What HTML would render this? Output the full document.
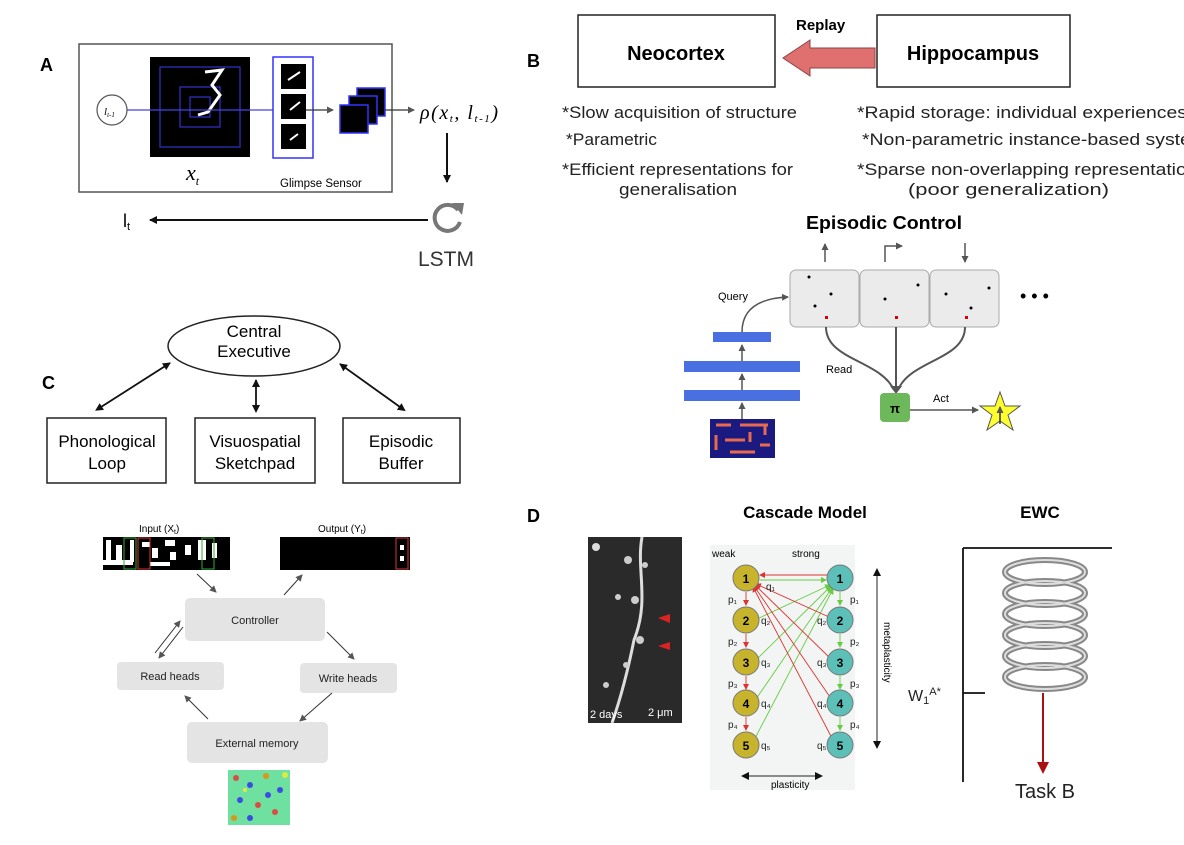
<!DOCTYPE html>
<html><head><meta charset="utf-8"><style>
html,body{margin:0;padding:0;background:#fff;}
svg{display:block;font-family:"Liberation Sans",Arial,sans-serif;}
</style></head><body>
<svg width="1184" height="845" viewBox="0 0 1184 845" xmlns="http://www.w3.org/2000/svg">
<defs>
<marker id="ab" markerWidth="8" markerHeight="8" refX="7" refY="4" orient="auto" markerUnits="userSpaceOnUse"><path d="M0,0 L8,4 L0,8 z" fill="#111"/></marker>
<marker id="ag" markerWidth="7" markerHeight="7" refX="6" refY="3.5" orient="auto" markerUnits="userSpaceOnUse"><path d="M0,0 L7,3.5 L0,7 z" fill="#555"/></marker>
<marker id="abs" markerWidth="8" markerHeight="8" refX="1" refY="4" orient="auto-start-reverse" markerUnits="userSpaceOnUse"><path d="M0,0 L8,4 L0,8 z" fill="#111"/></marker>
<marker id="ar" markerWidth="6" markerHeight="6" refX="5" refY="3" orient="auto" markerUnits="userSpaceOnUse"><path d="M0,0 L6,3 L0,6 z" fill="#d33"/></marker>
<marker id="agr" markerWidth="6" markerHeight="6" refX="5" refY="3" orient="auto" markerUnits="userSpaceOnUse"><path d="M0,0 L6,3 L0,6 z" fill="#6c4"/></marker>
<marker id="ared" markerWidth="12" markerHeight="12" refX="10" refY="6" orient="auto" markerUnits="userSpaceOnUse"><path d="M0,0 L12,6 L0,12 z" fill="#a11"/></marker>
</defs>

<!-- Panel A -->
<text x="40" y="71" font-size="18" font-weight="bold">A</text>
<rect x="79" y="44" width="313" height="148" fill="#fff" stroke="#555" stroke-width="1.5"/>
<rect x="150" y="57" width="100" height="100" fill="#000"/>
<rect x="160" y="67" width="80" height="80" fill="none" stroke="#33c" stroke-width="1.2"/>
<rect x="180" y="87" width="40" height="40" fill="none" stroke="#33c" stroke-width="1.2"/>
<rect x="190" y="97" width="20" height="20" fill="none" stroke="#33c" stroke-width="1.2"/>
<path d="M205,72 L222,70 L212,85 L220,95 L208,112 L198,115" fill="none" stroke="#fff" stroke-width="3"/>
<line x1="127" y1="110" x2="273" y2="110" stroke="#44d" stroke-width="1.3"/>
<circle cx="112" cy="110" r="15" fill="#fff" stroke="#555" stroke-width="1.2"/>
<text x="104" y="115" font-size="11" font-style="italic" font-family="Liberation Serif,serif">l<tspan font-size="7" dy="2">t-1</tspan></text>
<rect x="273" y="57" width="40" height="101" fill="#fff" stroke="#33f" stroke-width="1.5"/>
<rect x="281" y="64" width="25" height="25" fill="#000"/>
<rect x="281" y="94" width="25" height="25" fill="#000"/>
<rect x="281" y="124" width="25" height="25" fill="#000"/>
<path d="M288,80 L300,72 M290,110 L300,102 M290,140 L298,134" stroke="#fff" stroke-width="2"/>
<line x1="306" y1="110" x2="333" y2="110" stroke="#333" stroke-width="1.2" marker-end="url(#ag)"/>
<rect x="357" y="88" width="28" height="28" fill="#000" stroke="#33f" stroke-width="1.5"/>
<rect x="349" y="96" width="28" height="28" fill="#000" stroke="#33f" stroke-width="1.5"/>
<rect x="340" y="105" width="28" height="28" fill="#000" stroke="#33f" stroke-width="1.5"/>
<line x1="385" y1="110" x2="414" y2="110" stroke="#333" stroke-width="1.2" marker-end="url(#ag)"/>
<text x="420" y="119" font-size="20" font-style="italic" font-family="Liberation Serif,serif" textLength="78">ρ(x<tspan font-size="11" dy="3">t</tspan><tspan dy="-3">, l</tspan><tspan font-size="11" dy="3">t-1</tspan><tspan dy="-3">)</tspan></text>
<text x="186" y="180" font-size="22" font-style="italic" font-family="Liberation Serif,serif">x<tspan font-size="12" dy="5">t</tspan></text>
<text x="280" y="187" font-size="11.5">Glimpse Sensor</text>
<line x1="447" y1="133" x2="447" y2="182" stroke="#111" stroke-width="2" marker-end="url(#ab)"/>
<path d="M458,210 A13,13 0 1 0 460,222" fill="none" stroke="#777" stroke-width="4"/>
<path d="M452,203 L464,203 L462,215 z" fill="#777"/>
<text x="418" y="266" font-size="21" fill="#333">LSTM</text>
<line x1="428" y1="220" x2="150" y2="220" stroke="#111" stroke-width="2" marker-end="url(#ab)"/>
<text x="123" y="227" font-size="18">l<tspan font-size="11" dy="3">t</tspan></text>

<!-- Panel B -->
<text x="527" y="67" font-size="18" font-weight="bold">B</text>
<rect x="578" y="15" width="197" height="72" fill="#fff" stroke="#222" stroke-width="1.5"/>
<text x="676" y="60" font-size="20" font-weight="bold" text-anchor="middle">Neocortex</text>
<rect x="877" y="15" width="193" height="72" fill="#fff" stroke="#222" stroke-width="1.5"/>
<text x="973" y="60" font-size="20" font-weight="bold" text-anchor="middle">Hippocampus</text>
<text x="796" y="30" font-size="15" font-weight="bold">Replay</text>
<path d="M875,48 L810,48 L810,40 L783,58 L810,76 L810,68 L875,68 z" fill="#e07070" stroke="#844" stroke-width="1"/>
<g font-size="17" fill="#222">
<text x="562" y="118" textLength="235" lengthAdjust="spacingAndGlyphs">*Slow acquisition of structure</text>
<text x="566" y="145" textLength="91" lengthAdjust="spacingAndGlyphs">*Parametric</text>
<text x="562" y="175" textLength="231" lengthAdjust="spacingAndGlyphs">*Efficient representations for</text>
<text x="619" y="195" textLength="118" lengthAdjust="spacingAndGlyphs">generalisation</text>
<text x="857" y="118" textLength="330" lengthAdjust="spacingAndGlyphs">*Rapid storage: individual experiences</text>
<text x="862" y="145" textLength="345" lengthAdjust="spacingAndGlyphs">*Non-parametric instance-based system</text>
<text x="857" y="175" textLength="350" lengthAdjust="spacingAndGlyphs">*Sparse non-overlapping representations</text>
<text x="908" y="195" textLength="201" lengthAdjust="spacingAndGlyphs">(poor generalization)</text>
</g>

<text x="806" y="229" font-size="18" font-weight="bold" textLength="156" lengthAdjust="spacingAndGlyphs">Episodic Control</text>
<g fill="#ebebeb" stroke="#aaa" stroke-width="1">
<rect x="790" y="270" width="69" height="57" rx="6"/>
<rect x="860" y="270" width="69" height="57" rx="6"/>
<rect x="930" y="270" width="69" height="57" rx="6"/>
</g>
<g fill="#000"><circle cx="809" cy="277" r="1.5"/><circle cx="831" cy="294" r="1.5"/><circle cx="815" cy="306" r="1.5"/>
<circle cx="885" cy="299" r="1.5"/><circle cx="918" cy="285" r="1.5"/>
<circle cx="946" cy="294" r="1.5"/><circle cx="989" cy="288" r="1.5"/><circle cx="971" cy="308" r="1.5"/></g>
<g fill="#d00"><rect x="825" y="316" width="3" height="3"/><rect x="895" y="316" width="3" height="3"/><rect x="965" y="316" width="3" height="3"/></g>
<line x1="825" y1="262" x2="825" y2="244" stroke="#555" stroke-width="1.5" marker-end="url(#ag)"/>
<path d="M885,262 L885,246 L902,246" fill="none" stroke="#555" stroke-width="1.5" marker-end="url(#ag)"/>
<line x1="965" y1="243" x2="965" y2="262" stroke="#555" stroke-width="1.5" marker-end="url(#ag)"/>
<text x="1020" y="302" font-size="18">• • •</text>
<rect x="713" y="332" width="58" height="10" fill="#4a6fe0"/>
<rect x="684" y="361" width="116" height="11" fill="#4a6fe0"/>
<rect x="684" y="390" width="116" height="11" fill="#4a6fe0"/>
<g stroke="#555" stroke-width="1.5"><line x1="742" y1="361" x2="742" y2="345" marker-end="url(#ag)"/><line x1="742" y1="390" x2="742" y2="374" marker-end="url(#ag)"/><line x1="742" y1="419" x2="742" y2="403" marker-end="url(#ag)"/></g>
<path d="M742,332 C742,305 765,298 788,297" fill="none" stroke="#555" stroke-width="1.5" marker-end="url(#ag)"/>
<text x="718" y="300" font-size="11">Query</text>
<rect x="710" y="419" width="65" height="39" fill="#1a1a80"/>
<path d="M716,425 h15 M740,425 h28 M716,435 v15 M725,440 h20 M750,432 v10 M760,445 h10 M730,452 h25 M765,425 v10" stroke="#e86a50" stroke-width="3" fill="none"/>
<path d="M826,327 C826,360 880,360 894,390 M896,327 L896,390 M965,327 C965,360 910,360 898,390" fill="none" stroke="#555" stroke-width="2"/>
<path d="M890,386 L896,394 L902,386 z" fill="#555"/>
<text x="826" y="373" font-size="11">Read</text>
<rect x="880" y="393" width="30" height="29" rx="4" fill="#6cb85a"/>
<text x="895" y="413" font-size="13" text-anchor="middle" font-weight="bold">π</text>
<line x1="910" y1="410" x2="978" y2="410" stroke="#555" stroke-width="1.5" marker-end="url(#ag)"/>
<text x="933" y="402" font-size="11">Act</text>
<path d="M1000,392 L1005,406 L1020,406 L1008,415 L1013,430 L1000,421 L987,430 L992,415 L980,406 L995,406 z" fill="#ffff30" stroke="#555" stroke-width="1"/>
<line x1="1000" y1="424" x2="1000" y2="407" stroke="#333" stroke-width="1.5" marker-end="url(#ag)"/>

<!-- Panel C -->
<text x="42" y="389" font-size="18" font-weight="bold">C</text>
<ellipse cx="254" cy="346" rx="86" ry="30" fill="#fff" stroke="#222" stroke-width="1.5"/>
<text x="254" y="337" font-size="17" text-anchor="middle">Central</text>
<text x="254" y="357" font-size="17" text-anchor="middle">Executive</text>
<g fill="#fff" stroke="#222" stroke-width="1.5">
<rect x="47" y="418" width="119" height="65"/><rect x="195" y="418" width="120" height="65"/><rect x="343" y="418" width="117" height="65"/></g>
<g font-size="17" text-anchor="middle">
<text x="107" y="447">Phonological</text><text x="107" y="469">Loop</text>
<text x="255" y="447">Visuospatial</text><text x="255" y="469">Sketchpad</text>
<text x="401" y="447">Episodic</text><text x="401" y="469">Buffer</text></g>
<g stroke="#111" stroke-width="1.8">
<line x1="101" y1="407" x2="170" y2="363" marker-end="url(#ab)" marker-start="url(#abs)"/>
<line x1="256" y1="406" x2="256" y2="380" marker-end="url(#ab)" marker-start="url(#abs)"/>
<line x1="400" y1="407" x2="340" y2="364" marker-end="url(#ab)" marker-start="url(#abs)"/></g>

<!-- NTM -->
<text x="139" y="532" font-size="10">Input (X<tspan font-size="7" dy="2">t</tspan><tspan dy="-2">)</tspan></text>
<text x="318" y="532" font-size="10">Output (Y<tspan font-size="7" dy="2">t</tspan><tspan dy="-2">)</tspan></text>
<rect x="103" y="537" width="127" height="33" fill="#000"/>
<g fill="#fff"><rect x="106" y="540" width="5" height="20"/><rect x="116" y="545" width="6" height="15"/><rect x="130" y="540" width="4" height="22"/><rect x="142" y="542" width="8" height="5"/><rect x="152" y="548" width="6" height="10"/><rect x="165" y="540" width="10" height="6"/><rect x="170" y="552" width="6" height="8"/><rect x="185" y="545" width="6" height="10"/><rect x="198" y="540" width="8" height="20"/><rect x="212" y="543" width="5" height="15"/><rect x="103" y="560" width="30" height="5"/><rect x="150" y="562" width="20" height="4"/></g>
<rect x="124" y="538" width="12" height="31" fill="none" stroke="#3a3" stroke-width="1"/>
<rect x="138" y="538" width="12" height="31" fill="none" stroke="#d33" stroke-width="1"/>
<rect x="202" y="538" width="12" height="31" fill="none" stroke="#3a3" stroke-width="1"/>
<rect x="280" y="537" width="130" height="33" fill="#000"/>
<rect x="396" y="538" width="12" height="31" fill="none" stroke="#d33" stroke-width="1"/>
<rect x="400" y="545" width="4" height="5" fill="#fff"/><rect x="400" y="556" width="4" height="5" fill="#fff"/>
<g fill="#e4e4e4">
<rect x="185" y="598" width="140" height="43" rx="5"/>
<rect x="117" y="662" width="107" height="28" rx="4"/>
<rect x="300" y="663" width="97" height="30" rx="4"/>
<rect x="187" y="722" width="141" height="41" rx="5"/></g>
<g font-size="11" text-anchor="middle" fill="#222">
<text x="255" y="624">Controller</text>
<text x="170" y="680">Read heads</text>
<text x="348" y="682">Write heads</text>
<text x="257" y="747">External memory</text></g>
<g stroke="#333" stroke-width="1">
<line x1="197" y1="574" x2="216" y2="592" marker-end="url(#ag)"/>
<line x1="284" y1="595" x2="302" y2="575" marker-end="url(#ag)"/>
<line x1="327" y1="632" x2="354" y2="659" marker-end="url(#ag)"/>
<line x1="332" y1="693" x2="300" y2="721" marker-end="url(#ag)"/>
<line x1="208" y1="719" x2="185" y2="696" marker-end="url(#ag)"/>
<line x1="155" y1="653" x2="180" y2="621" marker-end="url(#ag)"/>
<line x1="183" y1="627" x2="159" y2="658" marker-end="url(#ag)"/></g>
<rect x="228" y="770" width="62" height="55" fill="#6ee0a0"/>
<g opacity="0.85">
<circle cx="236" cy="778" r="3" fill="#e33"/><circle cx="250" cy="785" r="3" fill="#33e"/><circle cx="266" cy="776" r="3" fill="#e80"/><circle cx="280" cy="790" r="3" fill="#33e"/><circle cx="240" cy="800" r="3" fill="#33e"/><circle cx="258" cy="805" r="3" fill="#e33"/><circle cx="275" cy="812" r="3" fill="#e33"/><circle cx="234" cy="818" r="3" fill="#e80"/><circle cx="250" cy="818" r="3" fill="#33e"/><circle cx="285" cy="775" r="3" fill="#ee3"/><circle cx="268" cy="795" r="3" fill="#33e"/><circle cx="245" cy="790" r="2" fill="#ee3"/></g>

<!-- Panel D -->
<text x="527" y="522" font-size="18" font-weight="bold">D</text>
<text x="805" y="518" font-size="17" font-weight="bold" text-anchor="middle">Cascade Model</text>
<text x="1040" y="518" font-size="17" font-weight="bold" text-anchor="middle">EWC</text>
<rect x="588" y="537" width="94" height="186" fill="#2a2a2a"/>
<path d="M642,537 C636,570 650,600 634,640 C628,670 620,700 612,723" stroke="#ddd" stroke-width="3" fill="none"/>
<g fill="#ccc"><circle cx="628" cy="560" r="4"/><circle cx="645" cy="565" r="3"/><circle cx="618" cy="597" r="3"/><circle cx="635" cy="600" r="4"/><circle cx="640" cy="640" r="4"/><circle cx="626" cy="665" r="3"/><circle cx="606" cy="685" r="3"/></g>
<path d="M670,623 L658,618 L670,614 z M670,650 L658,646 L670,642 z" fill="#d22"/>
<text x="590" y="718" font-size="11" fill="#fff">2 days</text>
<text x="648" y="716" font-size="11" fill="#fff">2 μm</text>
<circle cx="596" cy="547" r="4" fill="#ddd"/>
<rect x="710" y="545" width="145" height="245" fill="#f2f5f3"/>
<text x="712" y="557" font-size="10">weak</text><text x="792" y="557" font-size="10">strong</text>
<g stroke-width="0.9">
<line x1="833" y1="575" x2="760" y2="575" stroke="#d33" marker-end="url(#ar)"/>
<line x1="760" y1="580" x2="826" y2="580" stroke="#6c4" marker-end="url(#agr)"/>
<line x1="757" y1="619" x2="830" y2="585" stroke="#6c4" marker-end="url(#agr)"/>
<line x1="756" y1="660" x2="831" y2="586" stroke="#6c4" marker-end="url(#agr)"/>
<line x1="754" y1="702" x2="832" y2="588" stroke="#6c4" marker-end="url(#agr)"/>
<line x1="752" y1="744" x2="833" y2="589" stroke="#6c4" marker-end="url(#agr)"/>
<line x1="829" y1="617" x2="756" y2="584" stroke="#d33" marker-end="url(#ar)"/>
<line x1="830" y1="658" x2="755" y2="585" stroke="#d33" marker-end="url(#ar)"/>
<line x1="832" y1="700" x2="754" y2="586" stroke="#d33" marker-end="url(#ar)"/>
<line x1="834" y1="742" x2="753" y2="587" stroke="#d33" marker-end="url(#ar)"/>
<line x1="746" y1="592" x2="746" y2="605" stroke="#d33" marker-end="url(#ar)"/>
<line x1="746" y1="634" x2="746" y2="647" stroke="#d33" marker-end="url(#ar)"/>
<line x1="746" y1="676" x2="746" y2="689" stroke="#d33" marker-end="url(#ar)"/>
<line x1="746" y1="717" x2="746" y2="730" stroke="#d33" marker-end="url(#ar)"/>
<line x1="840" y1="592" x2="840" y2="605" stroke="#6c4" marker-end="url(#agr)"/>
<line x1="840" y1="634" x2="840" y2="647" stroke="#6c4" marker-end="url(#agr)"/>
<line x1="840" y1="676" x2="840" y2="689" stroke="#6c4" marker-end="url(#agr)"/>
<line x1="840" y1="717" x2="840" y2="730" stroke="#6c4" marker-end="url(#agr)"/></g>
<g stroke="#777" stroke-width="1">
<circle cx="746" cy="578" r="13" fill="#c8b42c"/><circle cx="746" cy="620" r="13" fill="#c8b42c"/><circle cx="746" cy="662" r="13" fill="#c8b42c"/><circle cx="746" cy="703" r="13" fill="#c8b42c"/><circle cx="746" cy="745" r="13" fill="#c8b42c"/>
<circle cx="840" cy="578" r="13" fill="#5cc0b8"/><circle cx="840" cy="620" r="13" fill="#5cc0b8"/><circle cx="840" cy="662" r="13" fill="#5cc0b8"/><circle cx="840" cy="703" r="13" fill="#5cc0b8"/><circle cx="840" cy="745" r="13" fill="#5cc0b8"/></g>
<g font-size="12" text-anchor="middle" font-weight="bold">
<text x="746" y="583">1</text><text x="746" y="625">2</text><text x="746" y="667">3</text><text x="746" y="708">4</text><text x="746" y="750">5</text>
<text x="840" y="583">1</text><text x="840" y="625">2</text><text x="840" y="667">3</text><text x="840" y="708">4</text><text x="840" y="750">5</text></g>
<g font-size="10" fill="#222">
<text x="766" y="590">q₁</text><text x="761" y="624">q₂</text><text x="761" y="666">q₃</text><text x="761" y="707">q₄</text><text x="761" y="749">q₅</text>
<text x="817" y="624">q₂</text><text x="817" y="666">q₃</text><text x="817" y="707">q₄</text><text x="817" y="749">q₅</text>
<text x="728" y="603">p₁</text><text x="728" y="645">p₂</text><text x="728" y="687">p₃</text><text x="728" y="728">p₄</text>
<text x="850" y="603">p₁</text><text x="850" y="645">p₂</text><text x="850" y="687">p₃</text><text x="850" y="728">p₄</text></g>
<line x1="877" y1="575" x2="877" y2="748" stroke="#222" stroke-width="1" marker-end="url(#ab)" marker-start="url(#abs)"/>
<text x="884" y="622" font-size="10" transform="rotate(90 884 622)">metaplasticity</text>
<line x1="748" y1="776" x2="822" y2="776" stroke="#222" stroke-width="1" marker-end="url(#ab)" marker-start="url(#abs)"/>
<text x="771" y="788" font-size="10">plasticity</text>

<line x1="963" y1="548" x2="963" y2="782" stroke="#111" stroke-width="1.8"/>
<line x1="963" y1="548" x2="1112" y2="548" stroke="#111" stroke-width="1.8"/>
<line x1="963" y1="693" x2="985" y2="693" stroke="#111" stroke-width="1.8"/>
<g fill="none" stroke="#888" stroke-width="6">
<ellipse cx="1045" cy="572" rx="40" ry="12"/><ellipse cx="1045" cy="593" rx="40" ry="12"/><ellipse cx="1045" cy="614" rx="40" ry="12"/><ellipse cx="1045" cy="635" rx="40" ry="12"/><ellipse cx="1045" cy="656" rx="40" ry="12"/><ellipse cx="1045" cy="677" rx="40" ry="12"/></g>
<g fill="none" stroke="#ddd" stroke-width="2">
<ellipse cx="1045" cy="572" rx="40" ry="12"/><ellipse cx="1045" cy="593" rx="40" ry="12"/><ellipse cx="1045" cy="614" rx="40" ry="12"/><ellipse cx="1045" cy="635" rx="40" ry="12"/><ellipse cx="1045" cy="656" rx="40" ry="12"/><ellipse cx="1045" cy="677" rx="40" ry="12"/></g>
<line x1="1043" y1="693" x2="1043" y2="772" stroke="#a11" stroke-width="2" marker-end="url(#ared)"/>
<text x="1045" y="798" font-size="20" text-anchor="middle" fill="#222">Task B</text>
<text x="908" y="701" font-size="16" fill="#222">W<tspan font-size="11" dy="3">1</tspan><tspan font-size="11" dy="-9">A*</tspan></text>
</svg>
</body></html>
